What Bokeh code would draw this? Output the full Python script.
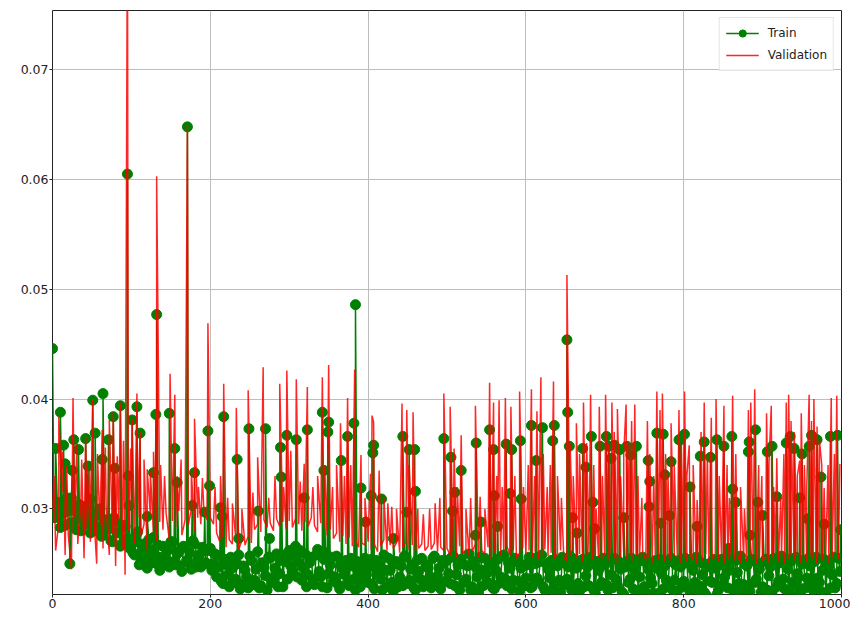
from bokeh.plotting import figure
from bokeh.models import FixedTicker, PrintfTickFormatter, Range1d
from bokeh.embed import file_html
from bokeh.resources import INLINE

# ---------------- data ----------------
# train baseline, epochs 0, 4, 8, ...
train_base = [
    0.0446, 0.0300, 0.0292, 0.0305, 0.0285, 0.0298, 0.0310, 0.0288, 0.0295, 0.0280, 0.0302, 0.0290, 0.0278, 0.0296, 0.0284, 0.0300, 0.0276, 0.0290, 0.0282, 0.0270, 0.0288, 0.0279, 0.0268, 0.0284, 0.0272,
    0.0272, 0.0258, 0.0279, 0.0252, 0.0268, 0.0246, 0.0263, 0.0274, 0.0250, 0.0244, 0.0266, 0.0255, 0.0247, 0.0270, 0.0249, 0.0261, 0.0243, 0.0265, 0.0251, 0.0245, 0.0268, 0.0254, 0.0247, 0.0262, 0.0250,
    0.0264, 0.0250, 0.0238, 0.0257, 0.0232, 0.0249, 0.0229, 0.0246, 0.0236, 0.0258, 0.0231, 0.0244, 0.0228, 0.0253, 0.0235, 0.0261, 0.0230, 0.0247, 0.0226, 0.0255, 0.0237, 0.0259, 0.0241, 0.0229, 0.0252,
    0.0262, 0.0243, 0.0266, 0.0251, 0.0235, 0.0259, 0.0240, 0.0256, 0.0231, 0.0263, 0.0238, 0.0254, 0.0228, 0.0249, 0.0234, 0.0257, 0.0227, 0.0245, 0.0253, 0.0230, 0.0248, 0.0226, 0.0242, 0.0232, 0.0255,
    0.0233, 0.0254, 0.0227, 0.0247, 0.0236, 0.0258, 0.0229, 0.0244, 0.0225, 0.0252, 0.0238, 0.0230, 0.0256, 0.0235, 0.0249, 0.0226, 0.0243, 0.0255, 0.0231, 0.0246, 0.0228, 0.0257, 0.0239, 0.0227, 0.0251,
    0.0253, 0.0232, 0.0257, 0.0240, 0.0226, 0.0250, 0.0236, 0.0259, 0.0229, 0.0247, 0.0224, 0.0244, 0.0255, 0.0233, 0.0251, 0.0227, 0.0254, 0.0238, 0.0258, 0.0230, 0.0246, 0.0235, 0.0252, 0.0225, 0.0249,
    0.0237, 0.0256, 0.0229, 0.0250, 0.0234, 0.0258, 0.0226, 0.0245, 0.0253, 0.0231, 0.0248, 0.0224, 0.0251, 0.0236, 0.0257, 0.0228, 0.0246, 0.0225, 0.0254, 0.0239, 0.0230, 0.0250, 0.0223, 0.0244, 0.0233,
    0.0249, 0.0226, 0.0240, 0.0255, 0.0230, 0.0245, 0.0222, 0.0252, 0.0236, 0.0227, 0.0250, 0.0238, 0.0256, 0.0224, 0.0244, 0.0232, 0.0253, 0.0223, 0.0241, 0.0248, 0.0229, 0.0255, 0.0235, 0.0225, 0.0247,
    0.0234, 0.0251, 0.0224, 0.0244, 0.0256, 0.0230, 0.0240, 0.0222, 0.0250, 0.0233, 0.0246, 0.0226, 0.0254, 0.0238, 0.0228, 0.0252, 0.0223, 0.0242, 0.0257, 0.0231, 0.0248, 0.0225, 0.0253, 0.0236, 0.0245,
    0.0229, 0.0254, 0.0239, 0.0224, 0.0250, 0.0234, 0.0257, 0.0227, 0.0245, 0.0252, 0.0231, 0.0241, 0.0222, 0.0253, 0.0237, 0.0248, 0.0226, 0.0256, 0.0233, 0.0244, 0.0223, 0.0251, 0.0240, 0.0228, 0.0255,
]
# train baseline, epochs 2, 6, 10, ...
train_base_b = [
    0.0292, 0.0306, 0.0283, 0.0296, 0.0310, 0.0287, 0.0299, 0.0281, 0.0304, 0.0292, 0.0286, 0.0298, 0.0289, 0.0280, 0.0294, 0.0275, 0.0288, 0.0283, 0.0271, 0.0292, 0.0278, 0.0266, 0.0285, 0.0273, 0.0264,
    0.0260, 0.0270, 0.0249, 0.0264, 0.0255, 0.0272, 0.0251, 0.0258, 0.0267, 0.0256, 0.0249, 0.0262, 0.0270, 0.0252, 0.0259, 0.0248, 0.0266, 0.0253, 0.0260, 0.0271, 0.0247, 0.0258, 0.0265, 0.0251, 0.0262,
    0.0244, 0.0259, 0.0247, 0.0234, 0.0254, 0.0240, 0.0256, 0.0233, 0.0250, 0.0227, 0.0248, 0.0238, 0.0257, 0.0231, 0.0245, 0.0228, 0.0251, 0.0239, 0.0256, 0.0233, 0.0246, 0.0229, 0.0253, 0.0258, 0.0236,
    0.0248, 0.0257, 0.0238, 0.0262, 0.0246, 0.0229, 0.0251, 0.0236, 0.0258, 0.0243, 0.0229, 0.0260, 0.0241, 0.0256, 0.0238, 0.0231, 0.0250, 0.0240, 0.0233, 0.0255, 0.0236, 0.0252, 0.0229, 0.0248, 0.0240,
    0.0247, 0.0230, 0.0253, 0.0239, 0.0226, 0.0244, 0.0255, 0.0233, 0.0250, 0.0229, 0.0248, 0.0257, 0.0232, 0.0245, 0.0228, 0.0253, 0.0236, 0.0229, 0.0249, 0.0238, 0.0255, 0.0232, 0.0246, 0.0253, 0.0234,
    0.0241, 0.0256, 0.0230, 0.0249, 0.0254, 0.0233, 0.0248, 0.0226, 0.0252, 0.0238, 0.0256, 0.0230, 0.0241, 0.0249, 0.0228, 0.0244, 0.0232, 0.0257, 0.0236, 0.0251, 0.0227, 0.0255, 0.0234, 0.0246, 0.0230,
    0.0249, 0.0228, 0.0255, 0.0237, 0.0252, 0.0229, 0.0250, 0.0237, 0.0226, 0.0253, 0.0235, 0.0256, 0.0231, 0.0247, 0.0226, 0.0254, 0.0232, 0.0250, 0.0229, 0.0247, 0.0256, 0.0226, 0.0252, 0.0230, 0.0255,
    0.0231, 0.0254, 0.0228, 0.0236, 0.0252, 0.0224, 0.0247, 0.0233, 0.0255, 0.0244, 0.0225, 0.0253, 0.0229, 0.0250, 0.0237, 0.0223, 0.0246, 0.0254, 0.0227, 0.0235, 0.0252, 0.0226, 0.0249, 0.0253, 0.0229,
    0.0255, 0.0228, 0.0248, 0.0233, 0.0226, 0.0251, 0.0224, 0.0247, 0.0234, 0.0254, 0.0222, 0.0249, 0.0231, 0.0256, 0.0244, 0.0227, 0.0253, 0.0232, 0.0224, 0.0250, 0.0228, 0.0254, 0.0233, 0.0249, 0.0224,
    0.0252, 0.0226, 0.0247, 0.0255, 0.0229, 0.0251, 0.0236, 0.0254, 0.0223, 0.0233, 0.0256, 0.0224, 0.0250, 0.0228, 0.0255, 0.0231, 0.0252, 0.0237, 0.0225, 0.0254, 0.0246, 0.0228, 0.0256, 0.0232, 0.0243,
]
# validation baseline, epochs 0, 4, 8, ...
val_base = [
    0.0300, 0.0262, 0.0288, 0.0315, 0.0258, 0.0276, 0.0245, 0.0292, 0.0268, 0.0305, 0.0255, 0.0282, 0.0270, 0.0298, 0.0250, 0.0285, 0.0264, 0.0302, 0.0258, 0.0278, 0.0248, 0.0290, 0.0262, 0.0240, 0.0280,
    0.0282, 0.0268, 0.0292, 0.0275, 0.0286, 0.0262, 0.0295, 0.0278, 0.0270, 0.0288, 0.0281, 0.0296, 0.0272, 0.0289, 0.0283, 0.0298, 0.0276, 0.0290, 0.0285, 0.0300, 0.0279, 0.0292, 0.0286, 0.0297, 0.0290,
    0.0292, 0.0286, 0.0278, 0.0270, 0.0274, 0.0265, 0.0272, 0.0268, 0.0276, 0.0263, 0.0271, 0.0267, 0.0275, 0.0269, 0.0281, 0.0286, 0.0279, 0.0290, 0.0283, 0.0287, 0.0280, 0.0291, 0.0284, 0.0288, 0.0282,
    0.0289, 0.0283, 0.0291, 0.0286, 0.0280, 0.0288, 0.0284, 0.0292, 0.0285, 0.0279, 0.0287, 0.0282, 0.0276, 0.0281, 0.0273, 0.0278, 0.0270, 0.0275, 0.0268, 0.0274, 0.0266, 0.0271, 0.0265, 0.0269, 0.0267,
    0.0270, 0.0263, 0.0268, 0.0261, 0.0266, 0.0272, 0.0262, 0.0267, 0.0264, 0.0269, 0.0260, 0.0265, 0.0270, 0.0263, 0.0267, 0.0261, 0.0264, 0.0268, 0.0262, 0.0266, 0.0263, 0.0269, 0.0261, 0.0265, 0.0262,
    0.0264, 0.0258, 0.0262, 0.0255, 0.0266, 0.0259, 0.0263, 0.0257, 0.0261, 0.0268, 0.0256, 0.0262, 0.0259, 0.0265, 0.0254, 0.0260, 0.0263, 0.0257, 0.0261, 0.0266, 0.0258, 0.0262, 0.0255, 0.0260, 0.0264,
    0.0259, 0.0262, 0.0256, 0.0261, 0.0254, 0.0258, 0.0263, 0.0257, 0.0260, 0.0255, 0.0259, 0.0262, 0.0256, 0.0253, 0.0258, 0.0261, 0.0255, 0.0259, 0.0252, 0.0257, 0.0260, 0.0254, 0.0258, 0.0256, 0.0253,
    0.0257, 0.0253, 0.0259, 0.0255, 0.0250, 0.0256, 0.0260, 0.0254, 0.0258, 0.0252, 0.0257, 0.0255, 0.0261, 0.0253, 0.0256, 0.0251, 0.0258, 0.0254, 0.0259, 0.0252, 0.0256, 0.0253, 0.0258, 0.0255, 0.0251,
    0.0256, 0.0252, 0.0258, 0.0254, 0.0250, 0.0257, 0.0253, 0.0259, 0.0251, 0.0255, 0.0258, 0.0252, 0.0256, 0.0250, 0.0254, 0.0257, 0.0253, 0.0259, 0.0251, 0.0255, 0.0252, 0.0258, 0.0254, 0.0250, 0.0256,
    0.0253, 0.0257, 0.0251, 0.0255, 0.0259, 0.0252, 0.0256, 0.0250, 0.0254, 0.0258, 0.0253, 0.0257, 0.0251, 0.0255, 0.0252, 0.0258, 0.0254, 0.0250, 0.0256, 0.0253, 0.0257, 0.0251, 0.0255, 0.0259, 0.0254,
]

# single-epoch spikes
train_spike_x = [4, 10, 14, 16, 19, 22, 25, 27, 33, 42, 45, 48, 51, 54, 63, 64, 71, 77, 79, 86, 95, 96, 97,
                 101, 107, 111, 120, 128, 131, 132, 148, 155, 158, 171, 177, 180, 193, 197, 199,
                 213, 215, 217, 234, 236, 249, 261, 270, 275, 289, 290, 297,
                 309, 319, 323, 342, 344, 349, 350, 366, 374, 382, 384, 391, 397,
                 404, 406, 407, 417, 432, 444, 449, 452, 459, 460, 496,
                 505, 507, 510, 518, 536, 537, 543, 554, 559, 560, 564, 575, 580, 582, 593, 594,
                 607, 613, 621, 634, 636, 652, 653, 655, 659, 665, 672, 676, 683, 685, 687, 694,
                 702, 705, 708, 712, 719, 724, 728, 733, 740, 755, 756, 757, 766, 771, 774, 776, 782, 784, 794, 796,
                 801, 808, 817, 821, 826, 834, 842, 851, 857, 861, 862, 866, 882, 883, 884, 891, 894, 900,
                 906, 912, 918, 930, 935, 940, 947, 950, 957, 959, 962, 969, 974, 978, 986, 995, 999]
train_spike_y = [0.0355, 0.0388, 0.0358, 0.0341, 0.0303, 0.0250, 0.0335, 0.0363, 0.0354, 0.0364, 0.0339, 0.0309, 0.0399, 0.0369, 0.0345, 0.0405, 0.0363, 0.0384, 0.0337, 0.0394, 0.0605, 0.0330, 0.0303,
                 0.0381, 0.0393, 0.0369, 0.0293, 0.0333, 0.0386, 0.0477, 0.0387, 0.0355, 0.0324, 0.0648, 0.0303, 0.0333, 0.0297, 0.0371, 0.0321,
                 0.0301, 0.0293, 0.0384, 0.0345, 0.0273, 0.0373, 0.0298, 0.0373, 0.0273, 0.0356, 0.0329, 0.0367,
                 0.0363, 0.0310, 0.0372, 0.0388, 0.0335, 0.0370, 0.0379, 0.0344, 0.0366, 0.0378, 0.0486, 0.0319, 0.0288,
                 0.0312, 0.0351, 0.0358, 0.0309, 0.0273, 0.0366, 0.0297, 0.0354, 0.0354, 0.0316, 0.0364,
                 0.0347, 0.0298, 0.0315, 0.0335, 0.0276, 0.0360, 0.0288, 0.0372, 0.0354, 0.0312, 0.0284, 0.0359, 0.0314, 0.0354, 0.0362, 0.0309,
                 0.0376, 0.0344, 0.0374, 0.0362, 0.0376, 0.0454, 0.0388, 0.0357, 0.0292, 0.0278, 0.0355, 0.0338, 0.0366, 0.0306, 0.0282, 0.0357,
                 0.0366, 0.0357, 0.0346, 0.0358, 0.0354, 0.0292, 0.0357, 0.0349, 0.0357, 0.0344, 0.0302, 0.0325, 0.0369, 0.0287, 0.0368, 0.0331, 0.0294, 0.0343, 0.0363, 0.0363,
                 0.0368, 0.0320, 0.0284, 0.0348, 0.0361, 0.0347, 0.0363, 0.0357, 0.0264, 0.0366, 0.0318, 0.0306, 0.0352, 0.0361, 0.0276, 0.0372, 0.0306, 0.0294,
                 0.0352, 0.0357, 0.0311, 0.0360, 0.0366, 0.0355, 0.0310, 0.0350, 0.0291, 0.0357, 0.0367, 0.0363, 0.0329, 0.0286, 0.0366, 0.0367, 0.0281]

val_spike_x = [2, 8, 13, 18, 26, 31, 37, 42, 47, 51, 57, 63, 67, 72, 77, 82, 86, 90, 95, 99,
               101, 107, 111, 116, 120, 124, 128, 132, 137, 142, 149, 155, 158, 163, 171, 176, 180, 185, 190, 197,
               206, 213, 217, 222, 228, 233, 240, 248, 254, 260, 267, 274, 282, 288, 293, 297,
               302, 309, 314, 319, 323, 330, 336, 342, 345, 350, 355, 360, 365, 370, 374, 378, 383, 391, 396,
               403, 405, 407, 414, 420, 425, 430, 436, 443, 449, 452, 457, 463, 470, 478, 485, 491, 496,
               504, 509, 513, 518, 524, 530, 536, 542, 548, 554, 559, 563, 566, 570, 574, 581, 586, 592, 597,
               603, 607, 611, 614, 619, 622, 627, 631, 635, 640, 645, 652, 656, 660, 664, 668, 673, 677, 682, 686, 689, 693, 697,
               701, 705, 709, 712, 716, 720, 724, 727, 731, 734, 738, 742, 747, 754, 757, 762, 766, 770, 773, 777, 780, 784, 788, 794, 797,
               801, 804, 807, 812, 817, 822, 826, 830, 835, 841, 845, 851, 855, 858, 862, 866, 872, 877, 882, 885, 890, 895, 899,
               905, 908, 911, 914, 918, 923, 927, 930, 933, 936, 940, 944, 947, 949, 953, 956, 959, 962, 965, 969, 972, 975, 978, 983, 987, 991, 994, 998]
val_spike_y = [0.0330, 0.0384, 0.0352, 0.0340, 0.0401, 0.0360, 0.0345, 0.0366, 0.0338, 0.0400, 0.0350, 0.0372, 0.0356, 0.0381, 0.0388, 0.0348, 0.0397, 0.0362, 0.0850, 0.0355,
               0.0382, 0.0405, 0.0370, 0.0345, 0.0336, 0.0335, 0.0352, 0.0603, 0.0340, 0.0330, 0.0423, 0.0404, 0.0330, 0.0345, 0.0650, 0.0335, 0.0382, 0.0320, 0.0328, 0.0469,
               0.0320, 0.0330, 0.0414, 0.0310, 0.0305, 0.0392, 0.0300, 0.0408, 0.0315, 0.0347, 0.0429, 0.0310, 0.0330, 0.0414, 0.0320, 0.0426,
               0.0353, 0.0418, 0.0325, 0.0341, 0.0411, 0.0320, 0.0330, 0.0420, 0.0340, 0.0431, 0.0320, 0.0340, 0.0378, 0.0330, 0.0401, 0.0340, 0.0427, 0.0349, 0.0310,
               0.0332, 0.0385, 0.0379, 0.0335, 0.0310, 0.0305, 0.0302, 0.0300, 0.0396, 0.0390, 0.0340, 0.0388, 0.0300, 0.0295, 0.0300, 0.0305, 0.0310, 0.0405,
               0.0393, 0.0355, 0.0320, 0.0367, 0.0300, 0.0310, 0.0394, 0.0311, 0.0300, 0.0415, 0.0397, 0.0330, 0.0399, 0.0320, 0.0401, 0.0393, 0.0330, 0.0407, 0.0320,
               0.0340, 0.0409, 0.0330, 0.0389, 0.0420, 0.0350, 0.0320, 0.0340, 0.0416, 0.0330, 0.0310, 0.0513, 0.0360, 0.0330, 0.0378, 0.0350, 0.0397, 0.0360, 0.0404, 0.0340, 0.0300, 0.0393, 0.0330,
               0.0404, 0.0360, 0.0397, 0.0370, 0.0391, 0.0330, 0.0350, 0.0395, 0.0360, 0.0380, 0.0395, 0.0330, 0.0310, 0.0380, 0.0350, 0.0330, 0.0407, 0.0390, 0.0405, 0.0350, 0.0330, 0.0378, 0.0340, 0.0390, 0.0360,
               0.0407, 0.0330, 0.0358, 0.0340, 0.0308, 0.0370, 0.0397, 0.0350, 0.0383, 0.0400, 0.0330, 0.0394, 0.0340, 0.0310, 0.0403, 0.0350, 0.0320, 0.0300, 0.0390, 0.0397, 0.0409, 0.0340, 0.0330,
               0.0387, 0.0340, 0.0394, 0.0320, 0.0346, 0.0310, 0.0350, 0.0397, 0.0404, 0.0380, 0.0370, 0.0330, 0.0344, 0.0387, 0.0340, 0.0320, 0.0404, 0.0380, 0.0400, 0.0375, 0.0363, 0.0340, 0.0319, 0.0340, 0.0401, 0.0350, 0.0403, 0.0341]

x_ticks = [0, 200, 400, 600, 800, 1000]
y_ticks = [0.03, 0.04, 0.05, 0.06, 0.07]


def merge(groups):
    xs, ys = [], []
    for gx, gy in groups:
        n = min(len(gx), len(gy))
        xs += list(gx[:n])
        ys += list(gy[:n])
    pts = sorted(zip(xs, ys), key=lambda t: t[0])
    return [q[0] for q in pts], [q[1] for q in pts]


train_x, train_y = merge([
    (list(range(0, 1000, 4)), train_base),
    (list(range(2, 1000, 4)), train_base_b),
    (train_spike_x, train_spike_y),
])
val_x, val_y = merge([
    (list(range(0, 1000, 4)), val_base),
    (val_spike_x, val_spike_y),
])

# ---------------- figure ----------------
p = figure(width=850, height=611, output_backend="svg", toolbar_location=None,
           x_range=Range1d(0, 1000), y_range=Range1d(0.0222, 0.0754),
           min_border_left=52, min_border_top=10, min_border_right=9, min_border_bottom=17)
p.background_fill_color = "white"
p.border_fill_color = "white"
p.outline_line_color = "#222222"
p.outline_line_width = 1

for ax in (p.xaxis[0], p.yaxis[0]):
    ax.axis_line_color = None
    ax.major_tick_line_color = "#222222"
    ax.major_tick_out = 3
    ax.major_tick_in = 0
    ax.minor_tick_line_color = None
    ax.major_label_text_font = "DejaVu Sans"
    ax.major_label_text_font_size = "12.5px"
    ax.major_label_text_color = "#222222"
    ax.major_label_standoff = 1

p.xaxis.ticker = FixedTicker(ticks=x_ticks)
p.yaxis.ticker = FixedTicker(ticks=y_ticks)
p.yaxis.formatter = PrintfTickFormatter(format="%.2f")

p.grid.grid_line_color = "#bdbdbd"
p.grid.grid_line_width = 1

p.line(train_x, train_y, color="green", line_width=1.5, legend_label="Train")
p.scatter(train_x, train_y, size=10, color="green", legend_label="Train")
p.line(val_x, val_y, color="red", line_width=1.5, line_alpha=0.85, legend_label="Validation")

lg = p.legend[0]
lg.location = "top_right"
lg.margin = 7
lg.padding = 6
lg.spacing = 4
lg.glyph_width = 33
lg.glyph_height = 18
lg.label_height = 18
lg.label_standoff = 9
lg.label_text_font = "DejaVu Sans"
lg.label_text_font_size = "12px"
lg.label_text_color = "#222222"
lg.border_line_color = "#cccccc"
lg.background_fill_alpha = 0.85

open("out.html", "w").write(file_html(p, INLINE))
